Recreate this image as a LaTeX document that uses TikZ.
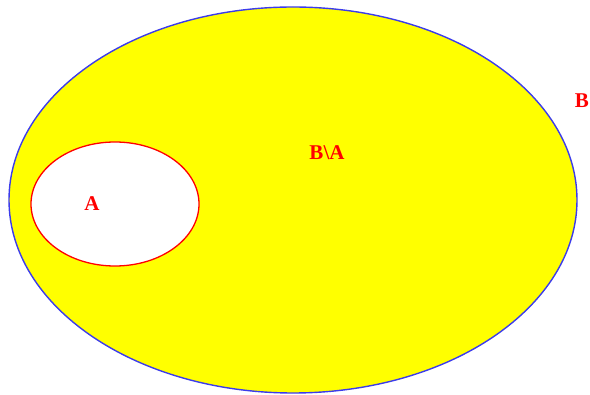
\documentclass[tikz,border=0pt]{standalone}
\usepackage{fontspec}
\setmainfont{Liberation Serif}
\definecolor{setyellow}{RGB}{255,255,0}
\definecolor{setblue}{RGB}{60,60,235}
\tikzset{
  setlabel/.style={text=red, font=\fontsize{21}{24}\selectfont\bfseries, inner sep=0pt}
}
\begin{document}
\begin{tikzpicture}[x=1pt, y=-1pt]
        \useasboundingbox (0,0) rectangle (590,395);
        % Set B
        \draw[setblue, line width=1.4pt, fill=setyellow] (293,200) ellipse [x radius=284, y radius=193];
        % Set A inside B
        \draw[red, line width=1.3pt, fill=white] (115,204) ellipse [x radius=84, y radius=62];

        % Labels
        \node[setlabel] (labA) at (92,204) {A};
        \node[setlabel] (labBA) at (327,153) {B\textbackslash A};
        \node[setlabel, anchor=east] (labB) at (589,101) {B};
    \end{tikzpicture}
\end{document}
